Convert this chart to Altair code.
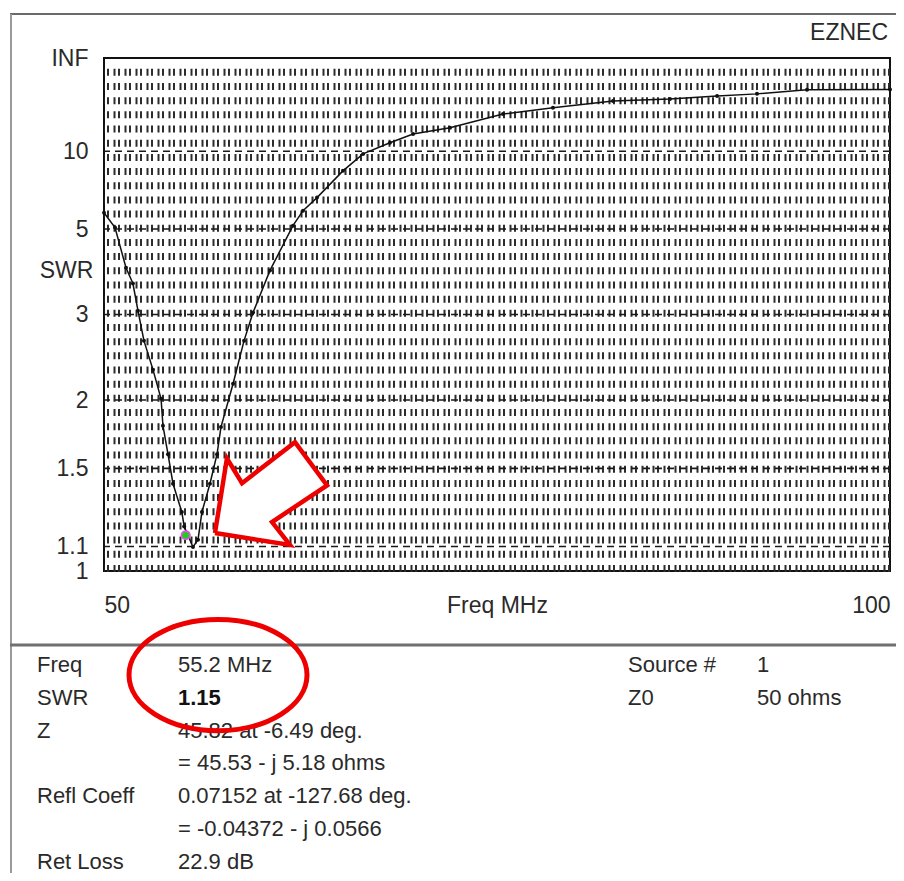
import altair as alt
import pandas as pd

# ---- data ----
freq_mhz = [50.0, 50.7, 51.4, 51.84, 52.16, 52.54, 53.12, 53.63, 53.75, 54.07, 54.39,
            54.95, 55.1, 55.66, 55.98, 56.23, 56.74, 57.19, 57.44, 58.21, 58.91, 59.48,
            60.56, 62.02, 62.66, 63.55, 65.2, 66.48, 68.19, 69.66, 72.01, 75.38, 78.56,
            82.38, 86.0, 89.0, 91.54, 94.72, 100.0]
swr = [5.63, 5.05, 3.89, 3.55, 3.06, 2.63, 2.29, 2.01, 1.79, 1.59, 1.41,
       1.26, 1.19, 1.098, 1.13, 1.26, 1.41, 1.59, 1.78, 2.15, 2.63, 3.03,
       3.83, 5.12, 5.72, 6.35, 8.09, 9.70, 11.1, 12.5, 13.7, 17.3, 19.6,
       22.9, 24.0, 26.0, 27.6, 31.2, 31.5]

cursor_freq = [55.2]
cursor_swr = [1.15]

tick_swr = [1, 1.1, 1.5, 2, 3, 5, 10]          # plus INF at the top
x_ticks = [50, 100]

arrow_freq = [57.06, 57.82, 58.78, 62.15, 64.19, 60.69, 61.83, 57.06]
arrow_swr = [1.160, 1.563, 1.413, 1.670, 1.401, 1.211, 1.107, 1.160]

info_labels = ["Freq", "SWR", "Z", "", "Refl Coeff", "", "Ret Loss"]
info_values = ["55.2 MHz", "1.15", "45.82 at -6.49 deg.", "= 45.53 - j 5.18 ohms",
               "0.07152 at -127.68 deg.", "= -0.04372 - j 0.0566", "22.9 dB"]
src_labels = ["Source #", "Z0"]
src_values = ["1", "50 ohms"]

# ---- layout / style ----
W, H = 786, 513
FONT = "Liberation Sans"
FS = 23
FS_INFO = 22
TXT = "#2a2a2a"

def gam(s):
    return (s - 1.0) / (s + 1.0)

tick_g = [gam(s) for s in tick_swr] + [1.0]
grid_rows = [0.005 + k * 0.02763 for k in range(36)]

xs = alt.Scale(domain=[50, 100], nice=False, zero=False)
ys = alt.Scale(domain=[0, 1], nice=False, zero=False)

X_AX = alt.Axis(values=x_ticks, title="Freq MHz", grid=False, ticks=False, domain=False,
                labelFlush=True, labelPadding=34, labelBaseline="middle",
                labelFont=FONT, labelFontSize=FS, labelColor=TXT,
                titleFont=FONT, titleFontSize=FS, titleColor=TXT, titleFontWeight="normal",
                titleY=34, titleBaseline="middle")
Y_AX = alt.Axis(values=tick_g, title="SWR", grid=False, ticks=False, domain=False,
                labelExpr="datum.value >= 0.999 ? 'INF' : format((1 + datum.value) / (1 - datum.value), '.2~f')",
                labelPadding=16, labelBaseline="middle",
                labelFont=FONT, labelFontSize=FS, labelColor=TXT,
                titleFont=FONT, titleFontSize=FS, titleColor=TXT, titleFontWeight="normal",
                titleAngle=0, titleX=-38, titleY=212, titleAlign="center", titleBaseline="middle")

GX = alt.X("freq:Q", scale=xs, axis=X_AX)
GY = alt.Y("g:Q", scale=ys, axis=Y_AX)

rows = alt.Chart(pd.DataFrame({"g": grid_rows})).mark_rule(
    color="#2c2c2c", strokeWidth=7, strokeDash=[2, 2.5, 2, 4.5], opacity=1
).encode(y=GY)

label_lines = alt.Chart(pd.DataFrame({"g": tick_g[1:-1]})).mark_rule(
    color="#1a1a1a", strokeWidth=1.6, strokeDash=[7, 5]
).encode(y=GY)

curve_df = pd.DataFrame({"freq": freq_mhz, "swr": swr})
curve = alt.Chart(curve_df).transform_calculate(
    g="(datum.swr - 1) / (datum.swr + 1)"
).mark_line(color="#111111", strokeWidth=1.5).encode(x=GX, y=GY)
dots = alt.Chart(curve_df).transform_calculate(
    g="(datum.swr - 1) / (datum.swr + 1)"
).mark_point(filled=True, color="#111111", size=16, opacity=1).encode(x=GX, y=GY)

cursor = alt.Chart(pd.DataFrame({"freq": cursor_freq, "swr": cursor_swr})).transform_calculate(
    g="(datum.swr - 1) / (datum.swr + 1)"
).mark_point(filled=True, fill="#22cc22", stroke="#ff44ff", strokeWidth=1.5, size=75, opacity=1
).encode(x=GX, y=GY)

arrow_df = pd.DataFrame({"freq": arrow_freq, "swr": arrow_swr, "i": list(range(len(arrow_freq)))})
arrow = alt.Chart(arrow_df).transform_calculate(
    g="(datum.swr - 1) / (datum.swr + 1)"
).mark_line(stroke="#ee0000", fill="white", strokeWidth=4.5, strokeJoin="miter").encode(
    x=GX, y=GY, order="i:Q")

# ---- frame lines (pixel positions relative to plot area) ----
frame_top = alt.Chart(pd.DataFrame({"a": [0]})).mark_rule(color="#6a6a6a", strokeWidth=2).encode(
    x=alt.value(-94), x2=alt.value(800), y=alt.value(-44))
frame_left = alt.Chart(pd.DataFrame({"a": [0]})).mark_rule(color="#9a9a9a", strokeWidth=2).encode(
    x=alt.value(-93), y=alt.value(-44), y2=alt.value(830))
frame_sep = alt.Chart(pd.DataFrame({"a": [0]})).mark_rule(color="#707070", strokeWidth=3).encode(
    x=alt.value(-94), x2=alt.value(800), y=alt.value(587))
frame_tick = alt.Chart(pd.DataFrame({"a": [0]})).mark_rule(color="#8a8a8a", strokeWidth=2).encode(
    x=alt.value(-72), y=alt.value(-58), y2=alt.value(-51))

eznec = alt.Chart(pd.DataFrame({"t": ["EZNEC"]})).mark_text(
    font=FONT, fontSize=FS, color=TXT, align="right", baseline="middle"
).encode(x=alt.value(784), y=alt.value(-25), text="t:N")

# ---- info panel ----
ROW0, DROW = 607, 32.8
info_rows = []
for i, (lab, val) in enumerate(zip(info_labels, info_values)):
    info_rows.append({"px": -67, "py": ROW0 + DROW * i, "t": lab, "bold": False})
    info_rows.append({"px": 74, "py": ROW0 + DROW * i, "t": val, "bold": val == "1.15"})
for i, (lab, val) in enumerate(zip(src_labels, src_values)):
    info_rows.append({"px": 524, "py": ROW0 + DROW * i, "t": lab, "bold": False})
    info_rows.append({"px": 653, "py": ROW0 + DROW * i, "t": val, "bold": False})
info_df = pd.DataFrame(info_rows)

info_norm = alt.Chart(info_df).transform_filter("!datum.bold").mark_text(
    font=FONT, fontSize=FS_INFO, color=TXT, align="left", baseline="middle"
).encode(x=alt.X("px:Q", scale=None, axis=None), y=alt.Y("py:Q", scale=None, axis=None), text="t:N")
info_bold = alt.Chart(info_df).transform_filter("datum.bold").mark_text(
    font=FONT, fontSize=FS_INFO, color="#111111", fontWeight="bold", align="left", baseline="middle"
).encode(x=alt.X("px:Q", scale=None, axis=None), y=alt.Y("py:Q", scale=None, axis=None), text="t:N")

ellipse = alt.Chart(pd.DataFrame({"a": [0]})).mark_point(
    shape="M -1 0 A 1 0.625 0 1 1 1 0 A 1 0.625 0 1 1 -1 0 Z",
    size=178 * 178, stroke="#ee0000", strokeWidth=5, filled=False, opacity=1
).encode(x=alt.value(114), y=alt.value(617))

chart = alt.layer(
    rows, label_lines, curve, dots, cursor, arrow,
    frame_top, frame_left, frame_sep, frame_tick, eznec,
    info_norm, info_bold, ellipse
).properties(
    width=W, height=H,
    autosize=alt.AutoSizeParams(type="none"),
    padding={"left": 96, "top": 50, "right": 6, "bottom": 302},
    background="white"
).configure_view(stroke="#111111", strokeWidth=2)

chart.save("out.html", embed_options={"renderer": "svg", "actions": False})
